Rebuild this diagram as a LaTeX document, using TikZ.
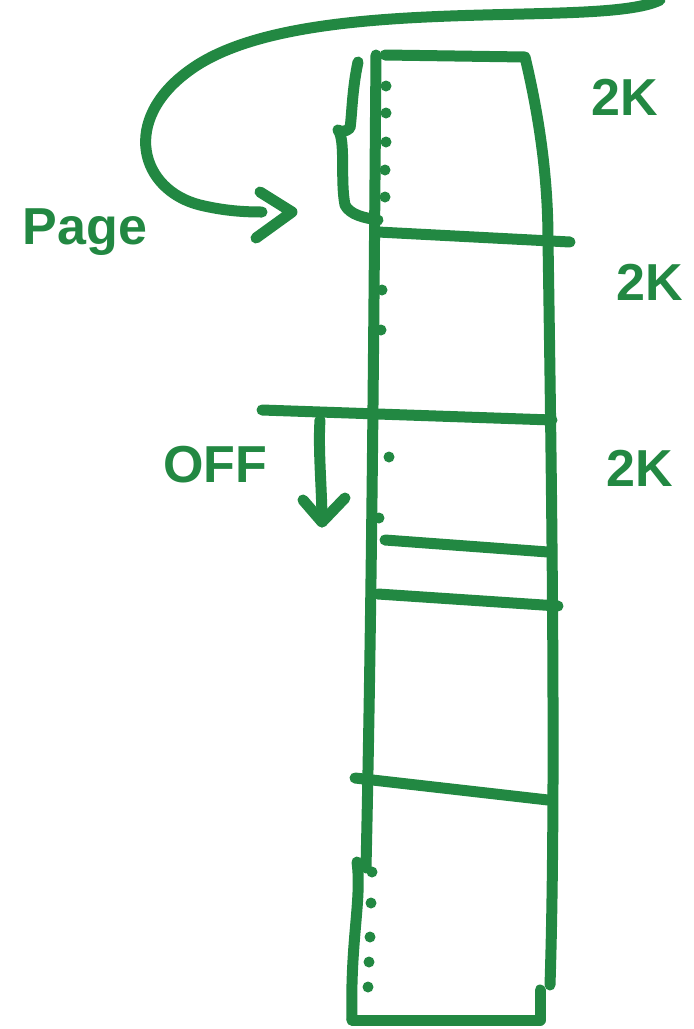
\documentclass[tikz,border=0pt]{standalone}
\usepackage{fontspec}
\setmainfont{Liberation Sans}
\definecolor{marker}{RGB}{34,136,66}
\tikzset{
  pen/.style={draw=marker, line width=5.5pt, line cap=round, line join=round},
  dotpen/.style={fill=marker, draw=none},
  hand/.style={text=marker, font=\fontsize{26}{26}\selectfont\bfseries, inner sep=0pt}
}
\begin{document}
\begin{tikzpicture}[x=0.5pt, y=-0.5pt]
\useasboundingbox[fill=white] (0,0) rectangle (694,1029);
% main column
\draw[pen] (376,55) .. controls (374,300) and (372,600) .. (366,868);
\draw[pen] (385,55) -- (525,57) .. controls (540,120) and (548,180) .. (548,240)
  .. controls (552,500) and (556,800) .. (550,985);
\draw[pen] (352,1020) -- (540,1020) -- (540,990);
\draw[pen] (357,862) .. controls (362,900) and (350,940) .. (352,1020);
% horizontal lines
\draw[pen] (378,232) -- (570,242);
\draw[pen] (262,410) -- (552,420);
\draw[pen] (385,540) -- (548,552);
\draw[pen] (378,594) -- (558,606);
\draw[pen] (355,778) -- (548,800);
% dots
\foreach \p in {(386,86),(386,113),(386,142),(385,170),(385,197),
                (382,290),(381,330),(389,457),(379,518),
                (372,872),(371,903),(370,937),(369,962),(368,987)}
  \fill[dotpen] \p circle (5.5);
% brace
\draw[pen] (358,62) .. controls (352,90) and (352,115) .. (350,128)
  .. controls (346,132) and (340,132) .. (338,130)
  .. controls (346,140) and (340,180) .. (345,205)
  .. controls (350,215) and (365,218) .. (378,220);
% page arrow
\coordinate (pgstart) at (660,0);
\coordinate (pgend) at (262,212);
\draw[pen] (pgstart) .. controls (600,30) and (300,-10) .. (190,70)
  .. controls (120,120) and (140,190) .. (200,205)
  .. controls (225,211) and (245,212) .. (pgend);
\draw[pen] (260,192) -- (292,212) -- (256,238);
% OFF arrow
\coordinate (offtop) at (320,420);
\coordinate (offtip) at (322,522);
\draw[pen] (offtop) .. controls (318,450) and (322,490) .. (offtip);
\draw[pen] (303,500) -- (offtip) -- (345,498);
% labels
\node[hand] (page) at (85,232) {Page};
\node[hand] (off) at (215,465) {OFF};
\node[hand] (k1) at (625,97) {2K};
\node[hand] (k2) at (650,282) {2K};
\node[hand] (k3) at (640,468) {2K};
\end{tikzpicture}
\end{document}
